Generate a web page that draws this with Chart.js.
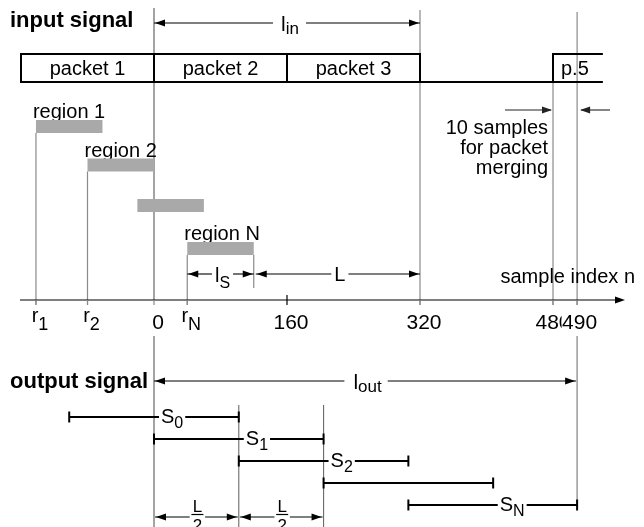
<!DOCTYPE html>
<html><head><meta charset="utf-8">
<style>html,body{margin:0;padding:0;background:#fff}canvas{display:block}</style>
</head><body>
<canvas id="c" width="644" height="527"></canvas>
<script src="https://cdn.jsdelivr.net/npm/chart.js@4/dist/chart.umd.min.js"></script>
<script>
// ---------- data (sample index units of the diagram) ----------
const axisTickValues = [-142, -80, 0, 40, 160, 320, 480, 509]; // 490 is drawn exaggerated in the figure
const axisTickMain   = ['r', 'r', '0', 'r', '160', '320', '480', '490'];
const axisTickSub    = ['1', '2', '', 'N', '', '', '', ''];
const packetEdges    = [-160, 0, 160, 320];
const packetLabels   = ['packet 1', 'packet 2', 'packet 3'];
const packet5Range   = [480, 540];
const packet5Label   = 'p.5';
const regionStarts   = [-142, -80, -20, 40];
const regionLength   = 80;            // l_S
const regionLabels   = ['region 1', 'region 2', '', 'region N'];
const segmentStarts  = [-102, 0, 102, 204, 306];
const segmentEnds    = [102, 204, 306, 408, 509];
const segmentMain    = ['S', 'S', 'S', '', 'S'];
const segmentSub     = ['0', '1', '2', '', 'N'];
const halfSteps      = [0, 102, 204];  // L/2 marks on output
const inputLength    = [0, 320];       // l_in
const outputLength   = [0, 509];       // l_out
const mergeMarks     = [480, 509];     // 10 samples for packet merging

// ---------- layout ----------
const FONT = "'Liberation Sans', Arial, Helvetica, sans-serif";
const ROW = { lin: 23, boxTop: 54, boxBot: 82, region: [126.5, 165, 205.5, 248.5], regionH: 13,
  dim: 274, axis: 300, tickBase: 329, lout: 381, seg: [417, 439, 461, 483, 505], half: 517 };
const VIEW = { min: -154 / 0.83125, max: 490 / 0.83125 };

const datasets = [];
regionStarts.forEach((s, i) => datasets.push({
  data: [{x: s, y: ROW.region[i]}, {x: s + regionLength, y: ROW.region[i]}],
  borderColor: '#a9a9a9', borderWidth: ROW.regionH, borderCapStyle: 'butt', pointRadius: 0, clip: false
}));
segmentStarts.forEach((s, i) => datasets.push({
  data: [{x: s, y: ROW.seg[i]}, {x: segmentEnds[i], y: ROW.seg[i]}],
  borderColor: '#000', borderWidth: 2, borderCapStyle: 'butt',
  pointStyle: 'line', pointRotation: 90, pointRadius: 5.5, pointBorderWidth: 2,
  pointBorderColor: '#000', pointBackgroundColor: '#000', clip: false
}));

function font(size, bold) { return (bold ? 'bold ' : '') + size + 'px ' + FONT; }
function measureSub(ctx, main, sub, size, subSize) {
  ctx.font = font(size); const w1 = ctx.measureText(main).width;
  ctx.font = font(subSize); const w2 = sub ? ctx.measureText(sub).width : 0;
  return [w1, w2];
}
function subText(ctx, main, sub, x, y, o) {
  o = o || {};
  const size = o.size || 20, subSize = o.subSize || 15, dy = o.dy == null ? 5 : o.dy, align = o.align || 'center';
  const [w1, w2] = measureSub(ctx, main, sub, size, subSize);
  const w = w1 + w2;
  const left = align === 'center' ? x - w / 2 : align === 'right' ? x - w : x;
  const pad = o.pad == null ? 3 : o.pad;
  if (o.bg) { ctx.fillStyle = '#fff'; ctx.fillRect(left - pad, y - size * 0.78, w + 2 * pad, size * 1.05); }
  ctx.fillStyle = '#000'; ctx.textAlign = 'left'; ctx.textBaseline = 'alphabetic';
  ctx.font = font(size); ctx.fillText(main, left, y);
  if (sub) { ctx.font = font(subSize); ctx.fillText(sub, left + w1, y + dy); }
  return {left, right: left + w};
}
function line(ctx, x1, y1, x2, y2, color, width) {
  ctx.beginPath(); ctx.strokeStyle = color; ctx.lineWidth = width;
  ctx.moveTo(x1, y1); ctx.lineTo(x2, y2); ctx.stroke();
}
function head(ctx, x, y, dir, color) {
  ctx.beginPath(); ctx.fillStyle = color || '#000';
  ctx.moveTo(x, y); ctx.lineTo(x - dir * 10, y - 3.5); ctx.lineTo(x - dir * 10, y + 3.5); ctx.closePath(); ctx.fill();
}
function dimArrow(ctx, x1, x2, y, gap, lh, rh) {
  const c = '#000';
  if (gap) { line(ctx, x1, y, gap[0], y, c, 1.1); line(ctx, gap[1], y, x2, y, c, 1.1); }
  else line(ctx, x1, y, x2, y, c, 1.1);
  if (lh) head(ctx, x1 + 1, y, -1, c);
  if (rh) head(ctx, x2 - 1, y, 1, c);
}

const diagram = {
  id: 'diagram',
  beforeDraw(chart) {
    const ctx = chart.ctx; ctx.save(); ctx.fillStyle = '#fff'; ctx.fillRect(0, 0, chart.width, chart.height); ctx.restore();
  },
  beforeDatasetsDraw(chart) {
    const ctx = chart.ctx, X = v => chart.scales.x.getPixelForValue(v);
    ctx.save();
    const g = '#8a8a8a';
    line(ctx, X(0), 8, X(0), ROW.axis, '#9a9a9a', 1.8);
    line(ctx, X(0), 336, X(0), 527, '#9a9a9a', 1.8);
    line(ctx, X(inputLength[1]), 10, X(inputLength[1]), ROW.axis + 5, g, 1.2);
    line(ctx, X(mergeMarks[0]), ROW.boxBot, X(mergeMarks[0]), ROW.axis + 5, g, 1.2);
    line(ctx, X(mergeMarks[1]), 12, X(mergeMarks[1]), ROW.axis + 5, g, 1.2);
    line(ctx, X(outputLength[1]), 336, X(outputLength[1]), ROW.seg[4], '#9a9a9a', 1.5);
    [0, 1, 3].forEach(i => {
      line(ctx, X(regionStarts[i]), ROW.region[i] + ROW.regionH / 2, X(regionStarts[i]), ROW.axis + 5, g, 1.2);
    });
    line(ctx, X(regionStarts[3] + regionLength), ROW.region[3] + ROW.regionH / 2, X(regionStarts[3] + regionLength), 288, g, 1.2);
    [halfSteps[1], halfSteps[2]].forEach(v => line(ctx, X(v), 405, X(v), 527, '#6a6a6a', 1.1));

    // axis
    line(ctx, 20, ROW.axis, 616, ROW.axis, '#000', 1.2);
    head(ctx, 625, ROW.axis, 1, '#000');
    axisTickValues.forEach((v, i) => {
      const top = axisTickMain[i] === '160' ? ROW.axis - 5 : ROW.axis;
      line(ctx, X(v), top, X(v), ROW.axis + 5, i === 4 ? '#000' : g, 1.2);
    });
    axisTickValues.forEach((v, i) => {
      const isLast = i === axisTickValues.length - 1;
      const off = isLast ? 2.5 : (axisTickMain[i] === '480' ? 0 : 4);
      if (axisTickSub[i]) subText(ctx, axisTickMain[i], axisTickSub[i], X(v) + 4, ROW.tickBase - 7, {size: 20, subSize: 18, dy: 8});
      else subText(ctx, axisTickMain[i], '', X(v) + off, ROW.tickBase, {size: 21, bg: isLast, pad: 0.5});
    });

    // packets
    ctx.strokeStyle = '#000'; ctx.lineWidth = 2;
    ctx.strokeRect(X(packetEdges[0]), ROW.boxTop, X(packetEdges[3]) - X(packetEdges[0]), ROW.boxBot - ROW.boxTop);
    packetEdges.slice(1, 3).forEach(v => line(ctx, X(v), ROW.boxTop, X(v), ROW.boxBot, '#000', 2));
    line(ctx, X(packetEdges[3]), ROW.boxBot, X(packet5Range[0]), ROW.boxBot, '#000', 2);
    ctx.beginPath(); ctx.strokeStyle = '#000'; ctx.lineWidth = 2;
    ctx.moveTo(X(packet5Range[1]), ROW.boxTop); ctx.lineTo(X(packet5Range[0]), ROW.boxTop);
    ctx.lineTo(X(packet5Range[0]), ROW.boxBot); ctx.lineTo(X(packet5Range[1]), ROW.boxBot); ctx.stroke();
    packetLabels.forEach((t, i) => subText(ctx, t, '', (X(packetEdges[i]) + X(packetEdges[i + 1])) / 2, 75, {size: 20}));
    subText(ctx, packet5Label, '', X(packet5Range[0]) + 8, 75, {size: 20, align: 'left'});

    // titles
    ctx.fillStyle = '#000'; ctx.font = font(22, true); ctx.textAlign = 'left'; ctx.textBaseline = 'alphabetic';
    ctx.fillText('input signal', 10, 27);
    ctx.fillText('output signal', 10, 388);

    // l_in
    {
      const cx = (X(inputLength[0]) + X(inputLength[1])) / 2 + 3;
      const [a, b] = measureSub(ctx, 'l', 'in', 21, 17);
      const l = cx - (a + b) / 2, r = cx + (a + b) / 2;
      dimArrow(ctx, X(inputLength[0]), X(inputLength[1]), ROW.lin, [l - 8, r + 7], true, true);
      subText(ctx, 'l', 'in', cx, 31, {size: 21, subSize: 17, dy: 3});
    }
    regionLabels.forEach((t, i) => {
      if (t) subText(ctx, t, '', X(regionStarts[i]) - 3, ROW.region[i] - ROW.regionH / 2 - 2, {size: 20, align: 'left'});
    });
    {
      const a = X(regionStarts[3]), b = X(regionStarts[3] + regionLength), c = X(inputLength[1]);
      const cx = (a + b) / 2 + 2;
      const [w1, w2] = measureSub(ctx, 'l', 'S', 20, 16);
      dimArrow(ctx, a, b, ROW.dim, [cx - (w1 + w2) / 2 - 3, cx + (w1 + w2) / 2 + 3], true, true);
      subText(ctx, 'l', 'S', cx, 282, {size: 20, subSize: 16, dy: 6});
      const cl = (b + c) / 2 + 3;
      ctx.font = font(20); const wl = ctx.measureText('L').width;
      dimArrow(ctx, b + 2, c, ROW.dim, [cl - wl / 2 - 3, cl + wl / 2 + 3], true, true);
      subText(ctx, 'L', '', cl, 281, {size: 20});
    }
    subText(ctx, 'sample index n', '', 635, 283, {size: 20, align: 'right'});
    ['10 samples', 'for packet', 'merging'].forEach((t, i) => subText(ctx, t, '', 548, 134 + i * 20, {size: 20, align: 'right'}));
    line(ctx, 505, 110, X(mergeMarks[0]) - 2, 110, '#222', 1.1); head(ctx, X(mergeMarks[0]) - 1, 110, 1, '#222');
    line(ctx, 610, 110, X(mergeMarks[1]) + 4, 110, '#222', 1.1); head(ctx, X(mergeMarks[1]) + 3, 110, -1, '#222');

    {
      const cx = (X(outputLength[0]) + X(outputLength[1])) / 2 + 2;
      const [a, b] = measureSub(ctx, 'l', 'out', 21, 17);
      dimArrow(ctx, X(outputLength[0]), X(outputLength[1]) - 1, ROW.lout, [cx - (a + b) / 2 - 9, cx + (a + b) / 2 + 6], true, true);
      subText(ctx, 'l', 'out', cx, 389, {size: 21, subSize: 17, dy: 3});
    }
    for (let i = 0; i < halfSteps.length - 1; i++) {
      const a = X(halfSteps[i]), b = X(halfSteps[i + 1]), cx = (a + b) / 2 + 1;
      ctx.font = font(17); const w = ctx.measureText('2').width;
      dimArrow(ctx, a + 1, b - 1, ROW.half, [cx - w / 2 - 3, cx + w / 2 + 3], true, true);
      subText(ctx, 'L', '', cx, 512, {size: 17});
      line(ctx, cx - 6, 514.5, cx + 6, 514.5, '#000', 1.2);
      subText(ctx, '2', '', cx, 531, {size: 17});
    }
    ctx.restore();
  },
  afterDatasetsDraw(chart) {
    const ctx = chart.ctx, X = v => chart.scales.x.getPixelForValue(v);
    ctx.save();
    segmentMain.forEach((t, i) => {
      if (!t) return;
      const mid = X((segmentStarts[i] + segmentEnds[i]) / 2);
      subText(ctx, t, segmentSub[i], mid + 7, ROW.seg[i] + 6, {size: 20, subSize: 16, dy: 5, align: 'left', bg: true, pad: 2});
    });
    ctx.restore();
  }
};

new Chart(document.getElementById('c'), {
  type: 'line',
  data: { datasets },
  options: {
    responsive: false, animation: false, devicePixelRatio: 1, events: [],
    layout: { padding: 0, autoPadding: false },
    plugins: { legend: { display: false }, tooltip: { enabled: false } },
    scales: {
      x: { type: 'linear', min: VIEW.min, max: VIEW.max, display: false },
      y: { type: 'linear', min: 0, max: 527, reverse: true, display: false }
    }
  },
  plugins: [diagram]
});
</script>
</body></html>
